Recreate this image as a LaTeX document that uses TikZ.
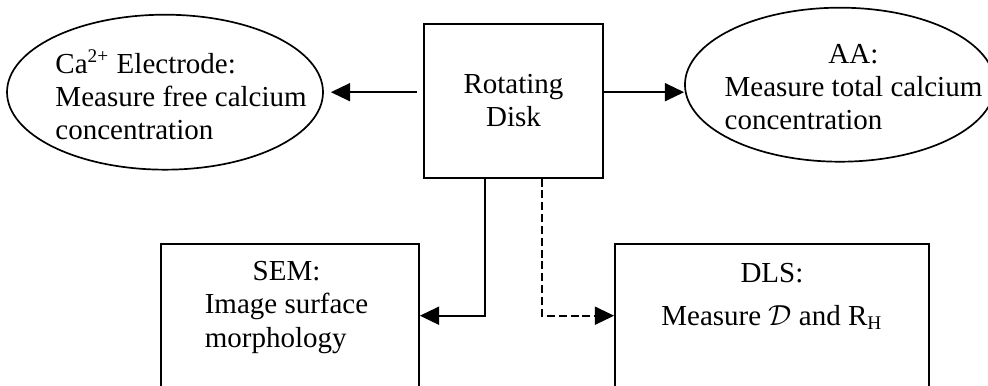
\documentclass[tikz,border=0pt]{standalone}
\usepackage{fontspec}
\setmainfont{Liberation Serif}
\usetikzlibrary{shapes.geometric,arrows.meta}

\begin{document}
\begin{tikzpicture}[
    box/.style={
        draw,
        line width=0.7pt,
        inner sep=0pt,
    },
    oval/.style={
        ellipse,
        draw,
        line width=0.7pt,
        inner sep=0pt,
    },
    txt/.style={
        inner sep=0pt,
        font=\fontsize{12}{13.7}\selectfont,
    },
    link/.style={
        line width=0.7pt,
        -{Triangle[length=8pt, width=7.5pt]},
    },
]

\path[use as bounding box, clip] (0, 0) rectangle (14.37, 5.61);

% disk in the middle, measurements around it
\node[box, txt, align=center, minimum width=2.60cm, minimum height=2.24cm] (disk) at (7.468, 4.145) {Rotating\\Disk};

\node[oval, minimum width=4.596cm, minimum height=2.254cm] (ise) at (2.400, 4.269) {};
\node[txt, anchor=west] (ise-text) at (0.80, 4.160) {\begin{tabular}{@{}l@{}}Ca\textsuperscript{2+} Electrode:\\Measure free calcium\\concentration\end{tabular}};

\node[oval, minimum width=4.509cm, minimum height=2.240cm] (aa) at (12.217, 4.378) {};
\node[txt] (aa-text) at (12.413, 4.299) {\begin{tabular}{@{}l@{}}\multicolumn{1}{@{}c@{}}{AA:}\\Measure total calcium\\concentration\end{tabular}};

\node[box, minimum width=3.752cm, minimum height=2.094cm] (sem) at (4.218, 1.018) {};
\node[txt] (sem-text) at (4.167, 1.140) {\begin{tabular}{@{}l@{}}\multicolumn{1}{@{}c@{}}{SEM:}\\Image surface\\morphology\end{tabular}};

\node[box, minimum width=4.567cm, minimum height=2.094cm] (dls) at (11.228, 1.018) {};
\node[txt] (dls-text) at (11.228, 1.290) {\begin{tabular}{@{}c@{}}DLS:\\[4pt]Measure $\mathcal{D}$ and R\textsubscript{H}\end{tabular}};

% connectors
\draw[link, shorten <=2.5pt, shorten >=2.9pt] (disk.west |- ise.east) -- (ise.east);
\draw[link] (disk.east |- ise.east) -- (aa.west |- ise.east);
\draw[link] ([xshift=-0.415cm]disk.south) |- (sem.east);
\draw[link, dash pattern=on 3.3pt off 1.6pt] ([xshift=0.415cm]disk.south) |- (dls.west);

\end{tikzpicture}
\end{document}
